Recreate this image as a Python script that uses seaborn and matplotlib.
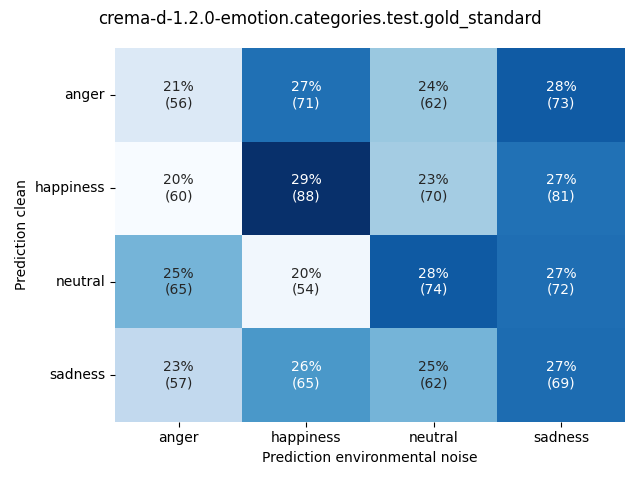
import matplotlib
matplotlib.use("Agg")
import matplotlib.pyplot as plt
import seaborn as sns
import numpy as np
import pandas as pd

labels = ["anger", "happiness", "neutral", "sadness"]
counts = [
    [56, 71, 62, 73],
    [60, 88, 70, 81],
    [65, 54, 74, 72],
    [57, 65, 62, 69],
]

cm = np.array(counts)
pct = cm / cm.sum(axis=1, keepdims=True) * 100
annot = np.array([[f"{pct[i, j]:.0f}%\n({cm[i, j]})" for j in range(cm.shape[1])]
                  for i in range(cm.shape[0])])
df = pd.DataFrame(pct, index=labels, columns=labels)

fig, ax = plt.subplots(figsize=(6.4, 4.8))
sns.heatmap(df, annot=annot, fmt="", cmap="Blues", cbar=False, ax=ax)
ax.set_xlabel("Prediction environmental noise")
ax.set_ylabel("Prediction clean")
ax.tick_params(axis="y", rotation=0)
fig.suptitle("crema-d-1.2.0-emotion.categories.test.gold_standard")
fig.tight_layout()
fig.savefig("out.png", dpi=100)
